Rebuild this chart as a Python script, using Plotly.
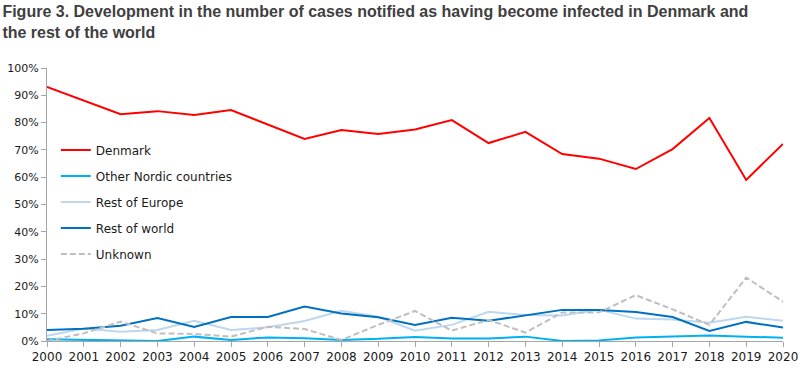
import plotly.graph_objects as go

years = list(range(2000, 2021))
denmark = [93.1, 88.0, 83.1, 84.2, 82.8, 84.6, 79.3, 74.0, 77.3, 75.8, 77.5, 80.9, 72.5, 76.6, 68.5, 66.8, 63.0, 70.3, 81.7, 59.0, 72.2]
other_nordic = [0.6, 0.4, 0.0, 0.0, 1.6, 0.4, 1.3, 1.0, 0.4, 0.8, 1.5, 0.9, 0.9, 1.6, 0.0, 0.2, 1.3, 1.6, 2.0, 1.6, 1.2]
rest_europe = [1.9, 4.6, 3.4, 4.0, 7.4, 4.0, 5.0, 7.3, 11.1, 8.9, 3.8, 5.9, 10.7, 9.5, 9.3, 11.4, 8.2, 7.9, 6.7, 8.9, 7.4]
rest_world = [4.0, 4.5, 5.6, 8.4, 5.1, 8.8, 8.8, 12.6, 10.1, 8.7, 5.9, 8.5, 7.4, 9.5, 11.4, 11.4, 10.6, 8.8, 3.7, 7.0, 4.9]
unknown = [0.0, 2.8, 7.1, 2.8, 2.6, 1.6, 5.2, 4.4, 0.4, 5.9, 11.0, 3.8, 7.7, 3.1, 10.4, 10.5, 16.8, 11.6, 5.9, 23.2, 14.4]

y_ticks = [0, 10, 20, 30, 40, 50, 60, 70, 80, 90, 100]
y_tick_labels = [f"{v}%" for v in y_ticks]

series = [
    ("Denmark", denmark, "#FF0000", "solid"),
    ("Other Nordic countries", other_nordic, "#00B0F0", "solid"),
    ("Rest of Europe", rest_europe, "#BDD7EE", "solid"),
    ("Rest of world", rest_world, "#0070C0", "solid"),
    ("Unknown", unknown, "#BFBFBF", "6px,3px"),
]

fig = go.Figure()
for name, vals, color, dash in series:
    fig.add_trace(go.Scatter(
        x=years, y=vals, name=name, mode="lines", legendgroup=name,
        line=dict(color=color, width=2, dash=dash),
    ))

fig.update_layout(
    width=800, height=370,
    margin=dict(l=47, r=17, t=68, b=29, autoexpand=False),
    paper_bgcolor="white", plot_bgcolor="white",
    font=dict(family="DejaVu Sans", size=12, color="#1a1a1a"),
    title=dict(
        text="Figure 3. Development in the number of cases notified as having become infected in Denmark and<br>the rest of the world",
        x=0.003, xanchor="left", y=0.953, yanchor="top",
        font=dict(family="Liberation Sans", size=16, color="#404040", weight="bold"),
    ),
    showlegend=True,
    legend=dict(
        x=0.012, y=0.753, xanchor="left", yanchor="top",
        bgcolor="rgba(0,0,0,0)", font=dict(family="DejaVu Sans", size=12, color="#1a1a1a"),
        tracegroupgap=7, itemwidth=30,
    ),
    xaxis=dict(
        range=[2000, 2020], tickmode="array", tickvals=years, ticktext=[str(y) for y in years],
        showgrid=False, zeroline=False, showline=True, linecolor="#A6A6A6", linewidth=1,
        ticks="outside", ticklen=5, tickcolor="#A6A6A6", automargin=False,
        tickfont=dict(family="DejaVu Sans", size=12, color="#1a1a1a"),
    ),
    yaxis=dict(
        range=[0, 100], tickmode="array", tickvals=y_ticks, ticktext=y_tick_labels,
        showgrid=False, zeroline=False, showline=True, linecolor="#A6A6A6", linewidth=1,
        ticks="outside", ticklen=5, tickcolor="#A6A6A6", automargin=False,
        tickfont=dict(family="DejaVu Sans", size=11, color="#1a1a1a"),
    ),
)

fig.write_html("out.html", config={"displayModeBar": False},
               post_script="document.body.style.margin='0';")
